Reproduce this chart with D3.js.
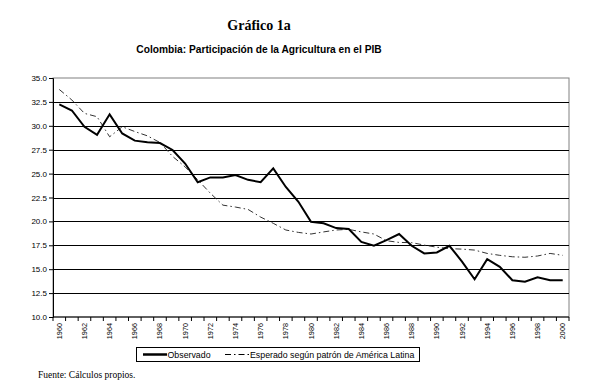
<!DOCTYPE html>
<html>
<head>
<meta charset="utf-8">
<script src="https://cdn.jsdelivr.net/npm/d3@7"></script>
<style>
  body { margin: 0; background: #fff; }
  svg { display: block; }
</style>
</head>
<body>
<div id="chart"></div>
<script>
// years on the category axis
const years = d3.range(1960, 2001);
const yTicks = [10, 12.5, 15, 17.5, 20, 22.5, 25, 27.5, 30, 32.5, 35];

// Observado
const observado = [
  32.25, 31.6, 29.9, 29.05, 31.2, 29.2, 28.45, 28.27, 28.2, 27.47,
  26.05, 24.1, 24.6, 24.6, 24.85, 24.35, 24.1, 25.55, 23.6, 22.05,
  19.95, 19.8, 19.3, 19.2, 17.85, 17.45, 18.05, 18.68, 17.45, 16.65,
  16.75, 17.45, 15.8, 13.95, 16.05, 15.25, 13.85, 13.7, 14.15, 13.85,
  13.85
];

// Esperado según patrón de América Latina
const esperado = [
  33.8, 32.7, 31.3, 30.95, 28.85, 29.9, 29.4, 28.95, 28.25, 26.8,
  25.7, 24.35, 22.95, 21.7, 21.5, 21.25, 20.45, 19.8, 19.1, 18.85,
  18.68, 18.9, 19.1, 19.17, 18.9, 18.68, 17.98, 17.8, 17.78, 17.52,
  17.3, 17.15, 17.1, 17.0, 16.65, 16.45, 16.3, 16.25, 16.38, 16.65,
  16.45
];

const width = 602, height = 390;
const margin = { top: 78, right: 33, bottom: 73, left: 53 };

const svg = d3.select("#chart")
  .append("svg")
  .attr("width", width)
  .attr("height", height);

const x = d3.scaleBand()
  .domain(years)
  .range([margin.left, width - margin.right]);

const y = d3.scaleLinear()
  .domain([10, 35])
  .range([height - margin.bottom, margin.top]);

const cx = d => x(d) + x.bandwidth() / 2;

// titles
svg.append("text")
  .attr("x", 259)
  .attr("y", 30)
  .attr("text-anchor", "middle")
  .style("font-family", "'Liberation Serif', 'Times New Roman', serif")
  .style("font-weight", "bold")
  .style("font-size", "14px")
  .text("Gráfico 1a");

svg.append("text")
  .attr("x", 259)
  .attr("y", 53)
  .attr("text-anchor", "middle")
  .style("font-family", "'Liberation Sans', Arial, sans-serif")
  .style("font-weight", "bold")
  .style("font-size", "10.2px")
  .text("Colombia: Participación de la Agricultura en el PIB");

// plot border (grey)
svg.append("rect")
  .attr("x", x.range()[0])
  .attr("y", y(35))
  .attr("width", x.range()[1] - x.range()[0])
  .attr("height", y(10) - y(35))
  .attr("fill", "none")
  .attr("stroke", "#808080")
  .attr("stroke-width", 1);

// horizontal grid lines
svg.append("g")
  .selectAll("line")
  .data(yTicks.filter(d => d > 10 && d < 35))
  .join("line")
  .attr("x1", x.range()[0])
  .attr("x2", x.range()[1])
  .attr("y1", d => Math.round(y(d)) + 0.5)
  .attr("y2", d => Math.round(y(d)) + 0.5)
  .attr("stroke", "#000")
  .attr("stroke-width", 1);

// y axis
const yAxis = svg.append("g")
  .attr("transform", `translate(${x.range()[0]},0)`)
  .call(d3.axisLeft(y).tickValues(yTicks).tickFormat(d3.format(".1f")).tickSize(4).tickPadding(2));
yAxis.select(".domain").attr("stroke", "#000");
yAxis.selectAll("text")
  .style("font-family", "'Liberation Sans', Arial, sans-serif")
  .style("font-size", "8px")
  .attr("fill", "#000");

// x axis line + ticks at category boundaries
const xBase = y(10);
svg.append("line")
  .attr("x1", x.range()[0])
  .attr("x2", x.range()[1])
  .attr("y1", xBase)
  .attr("y2", xBase)
  .attr("stroke", "#000");

svg.append("g")
  .selectAll("line")
  .data(years.concat([2001]))
  .join("line")
  .attr("x1", d => d === 2001 ? x.range()[1] : x(d))
  .attr("x2", d => d === 2001 ? x.range()[1] : x(d))
  .attr("y1", xBase)
  .attr("y2", xBase + 4)
  .attr("stroke", "#000");

// x labels, every other year, rotated
svg.append("g")
  .selectAll("text")
  .data(years.filter(d => d % 2 === 0))
  .join("text")
  .attr("transform", d => `translate(${cx(d) + 2.5},${xBase + 6}) rotate(-90)`)
  .attr("text-anchor", "end")
  .style("font-family", "'Liberation Sans', Arial, sans-serif")
  .style("font-size", "7.3px")
  .text(d => d);

// lines
const line = vals => d3.line()
  .x((d, i) => cx(years[i]))
  .y(d => y(d))(vals);

svg.append("path")
  .attr("d", line(esperado))
  .attr("fill", "none")
  .attr("stroke", "#333")
  .attr("stroke-width", 1)
  .attr("stroke-dasharray", "6,3,1.5,3");

svg.append("path")
  .attr("d", line(observado))
  .attr("fill", "none")
  .attr("stroke", "#000")
  .attr("stroke-width", 2)
  .attr("stroke-linejoin", "miter");

// legend
const legend = svg.append("g");
legend.append("rect")
  .attr("x", 136.5)
  .attr("y", 347.5)
  .attr("width", 283)
  .attr("height", 14)
  .attr("fill", "#fff")
  .attr("stroke", "#000");

legend.append("line")
  .attr("x1", 143).attr("x2", 167)
  .attr("y1", 354.5).attr("y2", 354.5)
  .attr("stroke", "#000")
  .attr("stroke-width", 2.5);

legend.append("text")
  .attr("x", 167.5)
  .attr("y", 358)
  .style("font-family", "'Liberation Sans', Arial, sans-serif")
  .style("font-size", "8.8px")
  .text("Observado");

legend.append("line")
  .attr("x1", 225).attr("x2", 249)
  .attr("y1", 354.5).attr("y2", 354.5)
  .attr("stroke", "#000")
  .attr("stroke-width", 1)
  .attr("stroke-dasharray", "6,3,1.5,3");

legend.append("text")
  .attr("x", 250)
  .attr("y", 358)
  .style("font-family", "'Liberation Sans', Arial, sans-serif")
  .style("font-size", "8.8px")
  .text("Esperado según patrón de América Latina");

// source note
svg.append("text")
  .attr("x", 38)
  .attr("y", 378)
  .style("font-family", "'Liberation Serif', 'Times New Roman', serif")
  .style("font-size", "9.5px")
  .text("Fuente: Cálculos propios.");
</script>
</body>
</html>
